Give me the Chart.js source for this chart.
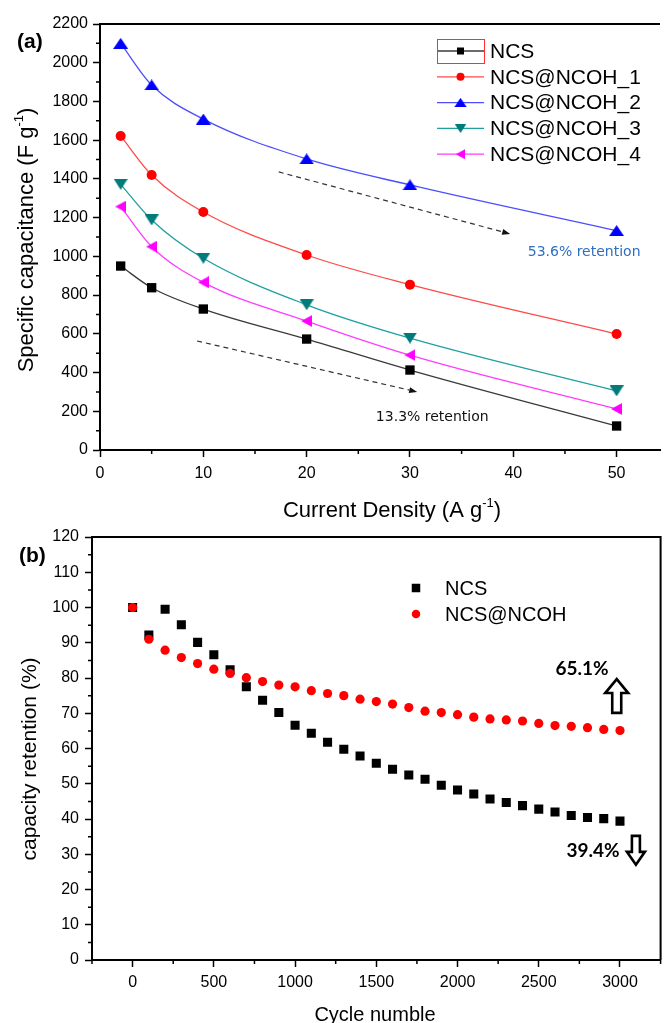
<!DOCTYPE html>
<html>
<head>
<meta charset="utf-8">
<script src="https://cdn.jsdelivr.net/npm/chart.js@4.4.1/dist/chart.umd.min.js"></script>
<style>
  html, body { margin: 0; padding: 0; background: #fff; }
  #wrap { position: relative; width: 667px; height: 1023px; overflow: hidden; }
  canvas { position: absolute; left: 0; }
  #chartA { top: 0; }
  #chartB { top: 520px; }
</style>
</head>
<body>
<div id="wrap">
  <canvas id="chartA" width="667" height="530"></canvas>
  <canvas id="chartB" width="667" height="503"></canvas>
</div>
<script>
// (a) specific capacitance vs current density
const currentDensity = [2, 5, 10, 20, 30, 50];
const ncsCap   = [950, 838, 728, 573, 413, 124];
const ncoh1Cap = [1622, 1420, 1229, 1007, 854, 599];
const ncoh2Cap = [2100, 1885, 1709, 1503, 1369, 1133];
const ncoh3Cap = [1372, 1188, 990, 750, 578, 305];
const ncoh4Cap = [1257, 1050, 866, 666, 490, 212];
const capLabels = ['NCS', 'NCS@NCOH_1', 'NCS@NCOH_2', 'NCS@NCOH_3', 'NCS@NCOH_4'];
const capTicksX = [0, 10, 20, 30, 40, 50];
const capTicksY = [0, 200, 400, 600, 800, 1000, 1200, 1400, 1600, 1800, 2000, 2200];

// (b) cycling stability
const cycles = [0, 100, 200, 300, 400, 500, 600, 700, 800, 900, 1000, 1100, 1200, 1300, 1400, 1500,
  1600, 1700, 1800, 1900, 2000, 2100, 2200, 2300, 2400, 2500, 2600, 2700, 2800, 2900, 3000];
const ncsRet = [100, 92.2, 99.5, 95.1, 90.1, 86.6, 82.3, 77.5, 73.7, 70.2, 66.6, 64.3, 61.8, 59.8, 57.9, 55.8,
  54.1, 52.5, 51.3, 49.6, 48.2, 47.1, 45.7, 44.7, 43.8, 42.8, 42.0, 41.0, 40.4, 40.1, 39.4];
const ncohRet = [100, 91.0, 87.9, 85.8, 84.1, 82.5, 81.3, 80.1, 79.0, 78.0, 77.5, 76.4, 75.6, 75.0, 74.0, 73.3,
  72.6, 71.6, 70.6, 70.2, 69.6, 68.9, 68.4, 68.1, 67.8, 67.1, 66.5, 66.3, 65.9, 65.4, 65.1];
const retLabels = ['NCS', 'NCS@NCOH'];
const cycleTicksX = [0, 500, 1000, 1500, 2000, 2500, 3000];
const retTicksY = [0, 10, 20, 30, 40, 50, 60, 70, 80, 90, 100, 110, 120];

const FONT = "'Liberation Sans', Arial, sans-serif";

// origin-style triangles (wider than chart.js' equilateral ones)
function triMarker(dir, w, h, color) {
  const c = document.createElement('canvas');
  c.width = w; c.height = h;
  const g = c.getContext('2d');
  g.fillStyle = color;
  g.beginPath();
  if (dir === 'up') { g.moveTo(w / 2, 0); g.lineTo(w, h); g.lineTo(0, h); }
  else if (dir === 'down') { g.moveTo(0, 0); g.lineTo(w, 0); g.lineTo(w / 2, h); }
  else { g.moveTo(0, h / 2); g.lineTo(w, 0); g.lineTo(w, h); }
  g.closePath();
  g.fill();
  return c;
}

function pts(xs, ys) {
  return xs.map((x, i) => ({ x: x, y: ys[i] }));
}

function midTicks(major) {
  const out = [];
  for (let i = 0; i < major.length - 1; i++) out.push((major[i] + major[i + 1]) / 2);
  return out;
}

function minorTicks(ctx, scale, values, len, horizontal) {
  ctx.beginPath();
  values.forEach(v => {
    const p = scale.getPixelForValue(v);
    if (horizontal) { ctx.moveTo(p, scale.top); ctx.lineTo(p, scale.top + len); }
    else { ctx.moveTo(scale.right, p); ctx.lineTo(scale.right - len, p); }
  });
  ctx.stroke();
}

// text made of pieces, e.g. superscripts
function richText(ctx, parts, x, y, rotate) {
  ctx.save();
  ctx.translate(x, y);
  if (rotate) ctx.rotate(-Math.PI / 2);
  let total = 0;
  parts.forEach(p => { ctx.font = p.font; total += ctx.measureText(p.t).width; });
  let cx = -total / 2;
  ctx.textBaseline = 'alphabetic';
  ctx.textAlign = 'left';
  parts.forEach(p => {
    ctx.font = p.font;
    ctx.fillText(p.t, cx, -(p.raise || 0));
    cx += ctx.measureText(p.t).width;
  });
  ctx.restore();
}

function dashArrow(ctx, x1, y1, x2, y2) {
  const ang = Math.atan2(y2 - y1, x2 - x1);
  const hl = 8, hw = 3;
  ctx.save();
  ctx.strokeStyle = '#333';
  ctx.fillStyle = '#111';
  ctx.lineWidth = 1.2;
  ctx.setLineDash([5, 4]);
  ctx.beginPath();
  ctx.moveTo(x1, y1);
  ctx.lineTo(x2 - hl * Math.cos(ang), y2 - hl * Math.sin(ang));
  ctx.stroke();
  ctx.setLineDash([]);
  ctx.beginPath();
  ctx.moveTo(x2, y2);
  ctx.lineTo(x2 - hl * Math.cos(ang) + hw * Math.sin(ang), y2 - hl * Math.sin(ang) - hw * Math.cos(ang));
  ctx.lineTo(x2 - hl * Math.cos(ang) - hw * Math.sin(ang), y2 - hl * Math.sin(ang) + hw * Math.cos(ang));
  ctx.closePath();
  ctx.fill();
  ctx.restore();
}

function blockArrow(ctx, cx, tipY, baseY, headW, shaftW, headH) {
  const s = baseY > tipY ? 1 : -1;
  ctx.save();
  ctx.beginPath();
  ctx.moveTo(cx, tipY);
  ctx.lineTo(cx + headW / 2, tipY + s * headH);
  ctx.lineTo(cx + shaftW / 2, tipY + s * headH);
  ctx.lineTo(cx + shaftW / 2, baseY);
  ctx.lineTo(cx - shaftW / 2, baseY);
  ctx.lineTo(cx - shaftW / 2, tipY + s * headH);
  ctx.lineTo(cx - headW / 2, tipY + s * headH);
  ctx.closePath();
  ctx.fillStyle = '#fff';
  ctx.fill();
  ctx.lineWidth = 2.6;
  ctx.lineJoin = 'miter';
  ctx.strokeStyle = '#000';
  ctx.stroke();
  ctx.restore();
}

function legendMarker(ctx, style, color, x, y, size) {
  ctx.fillStyle = color;
  if (style instanceof HTMLCanvasElement) {
    const w = style.width * 0.85, h = style.height * 0.85;
    ctx.drawImage(style, x - w / 2, y - h / 2, w, h);
  } else if (style === 'rect') {
    ctx.fillRect(x - size / 2, y - size / 2, size, size);
  } else {
    ctx.beginPath();
    ctx.arc(x, y, size / 2, 0, Math.PI * 2);
    ctx.fill();
  }
}

const axisTicks = { color: '#000', font: { family: FONT, size: 16 }, callback: v => String(v) };
const majorGrid = { drawOnChartArea: false, drawTicks: true, tickLength: 7, tickWidth: 1.5, tickColor: '#000' };
const axisBorder = { display: true, color: '#000', width: 2 };

// ---------- chart (a) ----------
const capSeries = [
  { data: ncsCap,   marker: '#000000', line: '#3a3a3a', style: 'rect', radius: 6.6 },
  { data: ncoh1Cap, marker: '#ff0000', line: '#ff4a4a', style: 'circle', radius: 5 },
  { data: ncoh2Cap, marker: '#0000ff', line: '#4d4dff', style: triMarker('up', 15, 11, '#0000ff') },
  { data: ncoh3Cap, marker: '#007b7b', line: '#1fa0a0', style: triMarker('down', 14, 11, '#007b7b') },
  { data: ncoh4Cap, marker: '#ff00ff', line: '#ff3cff', style: triMarker('left', 11, 12, '#ff00ff') }
];

const decorA = {
  id: 'decorA',
  afterDraw(chart) {
    const { ctx, chartArea: a, scales: { x, y } } = chart;
    ctx.save();
    ctx.strokeStyle = '#000';
    ctx.lineWidth = 1.5;
    minorTicks(ctx, x, midTicks(capTicksX), 4, true);
    minorTicks(ctx, y, midTicks(capTicksY), 4, false);
    ctx.lineWidth = 2;
    ctx.beginPath();
    ctx.moveTo(a.left, a.top);
    ctx.lineTo(a.right, a.top);
    ctx.stroke();

    // retention arrows and notes
    dashArrow(ctx, x.getPixelForValue(17.3), y.getPixelForValue(1436), x.getPixelForValue(39.7), y.getPixelForValue(1116));
    dashArrow(ctx, x.getPixelForValue(9.4), y.getPixelForValue(563), x.getPixelForValue(30.7), y.getPixelForValue(300));
    ctx.font = "14px 'DejaVu Sans', Verdana, sans-serif";
    ctx.textBaseline = 'middle';
    ctx.textAlign = 'left';
    ctx.fillStyle = '#2f6fc0';
    ctx.fillText('53.6% retention', x.getPixelForValue(41.4), y.getPixelForValue(1023));
    ctx.fillStyle = '#111';
    ctx.fillText('13.3% retention', x.getPixelForValue(26.7), y.getPixelForValue(170));

    // legend
    ctx.font = '21px ' + FONT;
    capSeries.forEach((s, i) => {
      const ly = 51 + i * 25.8;
      ctx.strokeStyle = s.line;
      ctx.lineWidth = 1.3;
      ctx.beginPath();
      ctx.moveTo(437, ly);
      ctx.lineTo(484, ly);
      ctx.stroke();
      legendMarker(ctx, s.style, s.marker, 460.5, ly, s.style === 'rect' ? 7 : 8);
      ctx.fillStyle = '#000';
      ctx.fillText(capLabels[i], 490, ly + 1);
    });
    ctx.strokeStyle = '#ff3030';
    ctx.lineWidth = 1;
    ctx.strokeRect(437.5, 39.5, 47, 24);

    // titles
    ctx.fillStyle = '#000';
    richText(ctx, [
      { t: 'Specific capacitance (F g', font: '22px ' + FONT },
      { t: '-1', font: '13px ' + FONT, raise: 10 },
      { t: ')', font: '22px ' + FONT }
    ], 33, 240, true);
    richText(ctx, [
      { t: 'Current Density (A g', font: '22px ' + FONT },
      { t: '-1', font: '13px ' + FONT, raise: 10 },
      { t: ')', font: '22px ' + FONT }
    ], 392, 517, false);
    ctx.font = 'bold 21px ' + FONT;
    ctx.textAlign = 'left';
    ctx.textBaseline = 'middle';
    ctx.fillText('(a)', 17, 42);
    ctx.restore();
  }
};

new Chart(document.getElementById('chartA'), {
  type: 'line',
  data: {
    datasets: capSeries.map((s, i) => ({
      label: capLabels[i],
      data: pts(currentDensity, s.data),
      borderColor: s.line,
      borderWidth: 1.3,
      backgroundColor: s.marker,
      pointBackgroundColor: s.marker,
      pointBorderWidth: 0,
      pointStyle: s.style,
      pointRadius: s.radius || 7,
      cubicInterpolationMode: 'monotone',
      fill: false
    }))
  },
  options: {
    responsive: false,
    animation: false,
    layout: { padding: { top: 24, right: 0, left: 0, bottom: 0 } },
    plugins: { legend: { display: false }, tooltip: { enabled: false } },
    scales: {
      x: {
        type: 'linear', min: 0, max: 54.2,
        afterBuildTicks: s => { s.ticks = capTicksX.map(v => ({ value: v })); },
        afterFit: s => { s.height = 80; },
        ticks: Object.assign({ padding: 7, maxRotation: 0 }, axisTicks),
        grid: majorGrid,
        border: axisBorder
      },
      y: {
        min: 0, max: 2200,
        afterBuildTicks: s => { s.ticks = capTicksY.map(v => ({ value: v })); },
        afterFit: s => { s.width = 100; },
        ticks: Object.assign({ padding: 5 }, axisTicks),
        grid: majorGrid,
        border: axisBorder
      }
    }
  },
  plugins: [decorA]
});

// ---------- chart (b) ----------
const decorB = {
  id: 'decorB',
  afterDraw(chart) {
    const { ctx, chartArea: a, scales: { x, y } } = chart;
    ctx.save();
    ctx.strokeStyle = '#000';
    ctx.lineWidth = 1.5;
    minorTicks(ctx, x, [-250].concat(midTicks(cycleTicksX), [3250]), 4, true);
    minorTicks(ctx, y, midTicks(retTicksY), 4, false);
    ctx.lineWidth = 2;
    ctx.beginPath();
    ctx.moveTo(a.left, a.top);
    ctx.lineTo(a.right, a.top);
    ctx.lineTo(a.right, a.bottom);
    ctx.stroke();

    // legend
    ctx.font = '20px ' + FONT;
    ctx.textBaseline = 'middle';
    ctx.textAlign = 'left';
    legendMarker(ctx, 'rect', '#000', 416, 68, 8.5);
    legendMarker(ctx, 'circle', '#ff0000', 416, 94, 8.5);
    ctx.fillStyle = '#000';
    ctx.fillText(retLabels[0], 445, 69);
    ctx.fillText(retLabels[1], 445, 95);

    // final retention notes
    ctx.font = "bold 19px Lato, 'Open Sans', sans-serif";
    ctx.textAlign = 'center';
    ctx.fillText('65.1%', x.getPixelForValue(2766), y.getPixelForValue(82.6));
    ctx.fillText('39.4%', x.getPixelForValue(2834), y.getPixelForValue(30.9));
    blockArrow(ctx, x.getPixelForValue(2980), y.getPixelForValue(79.7), y.getPixelForValue(70.1), 23, 9, 14);
    blockArrow(ctx, x.getPixelForValue(3098), y.getPixelForValue(27.0), y.getPixelForValue(35.2), 18, 8, 13);

    // titles
    richText(ctx, [{ t: 'capacity retention (%)', font: '21px ' + FONT }], 36, 239, true);
    richText(ctx, [{ t: 'Cycle numble', font: '20px ' + FONT }], 375, 501, false);
    ctx.font = 'bold 21px ' + FONT;
    ctx.textAlign = 'left';
    ctx.textBaseline = 'middle';
    ctx.fillText('(b)', 19, 36);
    ctx.restore();
  }
};

new Chart(document.getElementById('chartB'), {
  type: 'scatter',
  data: {
    datasets: [
      {
        label: retLabels[0],
        data: pts(cycles, ncsRet),
        pointStyle: 'rect',
        pointRadius: 6.4,
        pointBorderWidth: 0,
        pointBackgroundColor: '#000',
        backgroundColor: '#000',
        order: 1
      },
      {
        label: retLabels[1],
        data: pts(cycles, ncohRet),
        pointStyle: 'circle',
        pointRadius: 4.6,
        pointBorderWidth: 0,
        pointBackgroundColor: '#ff0000',
        backgroundColor: '#ff0000',
        order: 0
      }
    ]
  },
  options: {
    responsive: false,
    animation: false,
    layout: { padding: { top: 17, right: 3, left: 0, bottom: 0 } },
    plugins: { legend: { display: false }, tooltip: { enabled: false } },
    scales: {
      x: {
        type: 'linear', min: -250, max: 3250,
        afterBuildTicks: s => { s.ticks = cycleTicksX.map(v => ({ value: v })); },
        afterFit: s => { s.height = 63; },
        ticks: Object.assign({ padding: 6, maxRotation: 0 }, axisTicks),
        grid: majorGrid,
        border: axisBorder
      },
      y: {
        min: 0, max: 120,
        afterBuildTicks: s => { s.ticks = retTicksY.map(v => ({ value: v })); },
        afterFit: s => { s.width = 92; },
        ticks: Object.assign({ padding: 6 }, axisTicks),
        grid: majorGrid,
        border: axisBorder
      }
    }
  },
  plugins: [decorB]
});
</script>
</body>
</html>
